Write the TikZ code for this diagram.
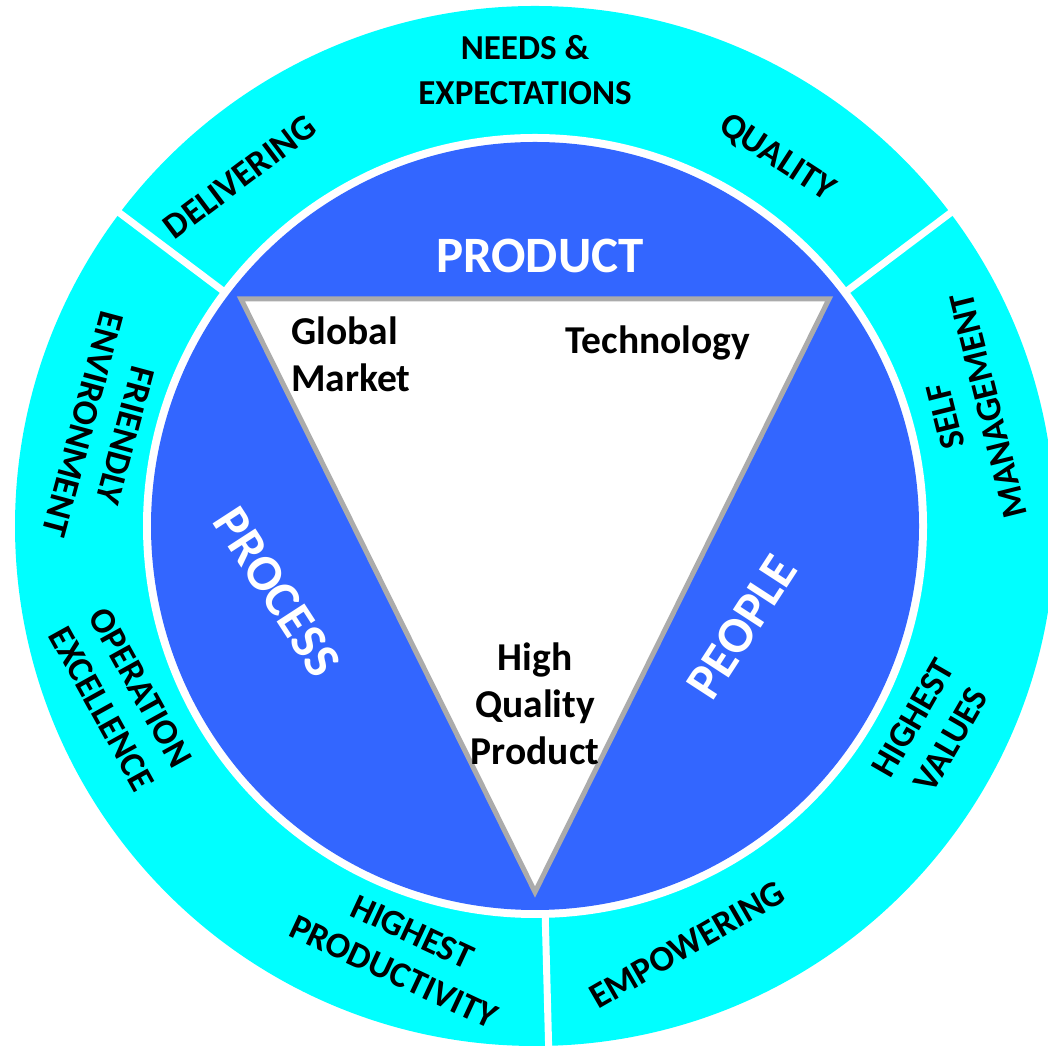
\documentclass[tikz,border=0pt]{standalone}
\usepackage{fontspec}
\setmainfont{Carlito}
\usetikzlibrary{calc}
\definecolor{ringcyan}{HTML}{00FFFF}
\definecolor{diskblue}{HTML}{3366FF}
\definecolor{trigray}{HTML}{ABABAB}
\begin{document}
\begin{tikzpicture}[x=1pt,y=1pt,
  ringlbl/.style={font=\fontsize{36}{44}\selectfont\bfseries, align=center, text=black, inner sep=0pt},
  ringbold/.style={font=\fontsize{35}{45}\selectfont\bfseries, align=center, text=black, inner sep=0pt},
  sectorlbl/.style={font=\fontsize{51}{60}\selectfont\bfseries, text=white, inner sep=0pt},
  innerlbl/.style={font=\fontsize{39.5}{47}\selectfont\bfseries, text=black, inner sep=0pt},
  gapline/.style={white, line width=7pt},
]
\useasboundingbox (0,0) rectangle (1047,1048);
\coordinate (C) at (535,522);
\fill[ringcyan] (C) circle (520);
\fill[white] (C) circle (392);
\fill[diskblue] (C) circle (384);
\foreach \a in {37,143,-88.5}
  \draw[gapline] ($(C)+(\a:388)$) -- ($(C)+(\a:540)$);
\coordinate (TL) at (241,749);
\coordinate (TR) at (829,749);
\coordinate (BV) at (535,156);
\filldraw[fill=white, draw=trigray, line width=5pt, line join=miter] (TL) -- (TR) -- (BV) -- cycle;

\node[ringbold] (needs) at (525,978) {NEEDS \&\\EXPECTATIONS};
\node[ringlbl, rotate=37] (deliv) at (240,871) {DELIVERING};
\node[ringlbl, rotate=-33] (qual) at (777,890) {QUALITY};
\node[ringlbl, rotate=-105] (friendly) at (104,618) {FRIENDLY\\ENVIRONMENT};
\node[ringlbl, rotate=-61] (oper) at (121,350) {OPERATION\\EXCELLENCE};
\node[ringlbl, rotate=104] (self) at (967,637) {SELF\\MANAGEMENT};
\node[ringlbl, rotate=60] (hval) at (932,319) {HIGHEST\\VALUES};
\node[ringlbl, rotate=30] (emp) at (687,103) {EMPOWERING};
\node[ringlbl, rotate=-25] (hprod) at (403,96) {HIGHEST\\PRODUCTIVITY};

\node[sectorlbl] (product) at (540,792) {PRODUCT};
\node[sectorlbl, rotate=-57] (process) at (277,456) {PROCESS};
\node[sectorlbl, rotate=57] (people) at (742,421) {PEOPLE};

\node[innerlbl, align=left, anchor=west] (global) at (291,694) {Global\\Market};
\node[innerlbl] (tech) at (658,705) {Technology};
\node[innerlbl, align=center] (hq) at (535,344) {High\\Quality\\Product};
\end{tikzpicture}
\end{document}
